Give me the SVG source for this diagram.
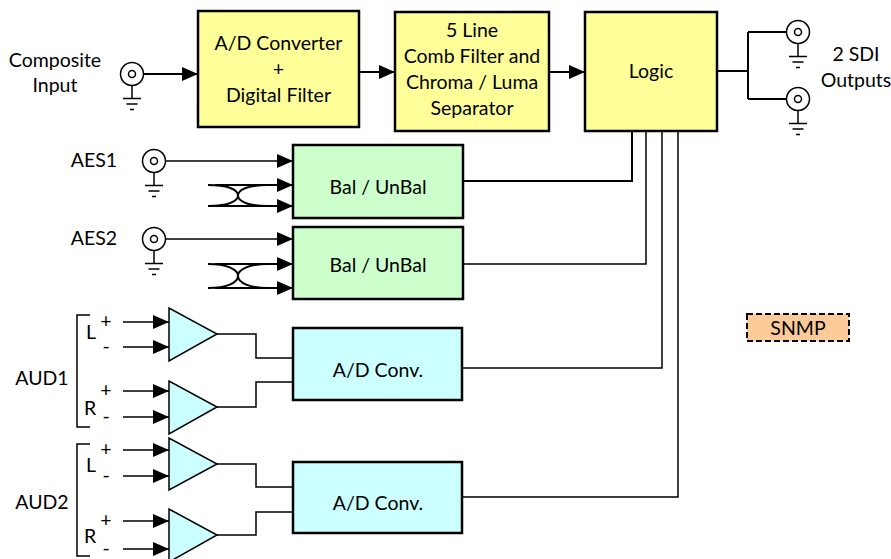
<svg xmlns="http://www.w3.org/2000/svg" xmlns:xlink="http://www.w3.org/1999/xlink" width="891" height="559" viewBox="0 0 891 559">
<style>
  text { font-family: Lato, "Liberation Sans", sans-serif; font-size: 19.5px; fill: #000; text-anchor: middle; }
  .box { stroke: #000; stroke-width: 2.5; }
  .yel { fill: #FFFF99; }
  .grn { fill: #CCFFCC; }
  .cyn { fill: #CCFFFF; }
  .snmp { fill: #FBCA98; stroke: #000; stroke-width: 2; stroke-dasharray: 6 3; }
  .w { fill: none; stroke: #000; stroke-width: 2; }
  .t { fill: none; stroke: #000; stroke-width: 1.5; }
  .tw { fill: none; stroke: #000; stroke-width: 2; }
  .amp { fill: #CCFFFF; stroke: #000; stroke-width: 1.5; }
  .arr { marker-end: url(#ah); }
</style>
<defs>
  <marker id="ah" markerUnits="userSpaceOnUse" markerWidth="17" markerHeight="15" refX="16" refY="7" orient="auto">
    <path d="M0,0 L16,7 L0,14 Z" fill="#000"/>
  </marker>
  <g id="bnc">
    <circle cx="0" cy="0" r="11.5" fill="#fff" stroke="#000" stroke-width="1.5"/>
    <circle cx="0" cy="0" r="3.5" fill="none" stroke="#000" stroke-width="1.5"/>
    <path d="M0,11.5 V24.5 M-9,24.5 H9 M-5.5,30 H5.5 M-2,35.5 H2" fill="none" stroke="#000" stroke-width="1.5"/>
  </g>
</defs>

<g id="connectors">
  <!-- top chain -->
  <line class="w arr" x1="135.5" y1="74" x2="198" y2="74"/>
  <line class="w arr" x1="359" y1="72" x2="395" y2="72"/>
  <line class="w arr" x1="549" y1="72" x2="585" y2="72"/>
  <!-- SDI outputs -->
  <path class="w" d="M717,71 H748 M748,32 V99 M748,32 H794.5 M748,99 H794.5"/>
  <!-- AES1 -->
  <line class="t arr" x1="157.5" y1="161" x2="293" y2="161"/>
  <line class="tw arr" x1="215" y1="185" x2="293" y2="185"/>
  <line class="tw arr" x1="215" y1="206" x2="293" y2="206"/>
  <path class="tw" d="M208,185 C226,185 238,189 238,195.5 C238,202 226,206 208,206 M268,185 C250,185 238,189 238,195.5 C238,202 250,206 268,206"/>
  <!-- AES2 -->
  <line class="t arr" x1="157.5" y1="239" x2="293" y2="239"/>
  <line class="tw arr" x1="215" y1="264" x2="293" y2="264"/>
  <line class="tw arr" x1="215" y1="288" x2="293" y2="288"/>
  <path class="tw" d="M208,264 C226,264 238,269 238,276 C238,283 226,288 208,288 M268,264 C250,264 238,269 238,276 C238,283 250,288 268,288"/>
  <!-- AUD1 inputs -->
  <line class="t arr" x1="123" y1="322" x2="169" y2="322"/>
  <line class="t arr" x1="123" y1="347" x2="169" y2="347"/>
  <line class="t arr" x1="123" y1="391" x2="169" y2="391"/>
  <line class="t arr" x1="123" y1="417" x2="169" y2="417"/>
  <!-- AUD2 inputs -->
  <line class="t arr" x1="123" y1="450" x2="169" y2="450"/>
  <line class="t arr" x1="123" y1="476" x2="169" y2="476"/>
  <line class="t arr" x1="123" y1="521" x2="169" y2="521"/>
  <line class="t arr" x1="123" y1="549" x2="169" y2="549"/>
  <!-- amp outputs -->
  <path class="t" d="M217,334 H256 V358 H293"/>
  <path class="t" d="M217,407 H256 V382 H293"/>
  <path class="t" d="M217,464 H256 V487 H293"/>
  <path class="t" d="M217,535 H256 V512 H293"/>
  <!-- brackets -->
  <path class="t" d="M90,315 H77 V427 H90"/>
  <path class="t" d="M90,444 H77 V556 H90"/>
  <!-- logic bus -->
  <path class="w" d="M632,131 V181 H463"/>
  <path class="t" d="M646,131 V264 H463"/>
  <path class="t" d="M662,131 V368 H463"/>
  <path class="t" d="M678,131 V497 H463"/>
</g>

<g id="composite-input">
  <use xlink:href="#bnc" x="132" y="74"/>
  <text x="55" y="67">Composite</text>
  <text x="55" y="92">Input</text>
</g>
<g id="ad-converter">
  <rect class="box yel" x="198" y="11" width="161" height="116"/>
  <text x="278.5" y="50">A/D Converter</text>
  <text x="278.5" y="76">+</text>
  <text x="278.5" y="102">Digital Filter</text>
</g>
<g id="comb-filter">
  <rect class="box yel" x="395" y="12" width="154" height="119"/>
  <text x="472" y="37">5 Line</text>
  <text x="472" y="63">Comb Filter and</text>
  <text x="472" y="89">Chroma / Luma</text>
  <text x="472" y="115">Separator</text>
</g>
<g id="logic">
  <rect class="box yel" x="585" y="12" width="132" height="119"/>
  <text x="651" y="78">Logic</text>
</g>
<g id="sdi-outputs">
  <use xlink:href="#bnc" x="798" y="32"/>
  <use xlink:href="#bnc" x="798" y="99"/>
  <text x="856" y="61">2 SDI</text>
  <text x="856" y="87">Outputs</text>
</g>
<g id="aes1">
  <use xlink:href="#bnc" x="154" y="161"/>
  <text x="94" y="167">AES1</text>
</g>
<g id="aes2">
  <use xlink:href="#bnc" x="154" y="239"/>
  <text x="94" y="245">AES2</text>
</g>
<g id="balunbal1">
  <rect class="box grn" x="293" y="145" width="170" height="73"/>
  <text x="378" y="194">Bal / UnBal</text>
</g>
<g id="balunbal2">
  <rect class="box grn" x="293" y="227" width="170" height="72"/>
  <text x="378" y="272">Bal / UnBal</text>
</g>
<g id="aud1">
  <text x="42" y="385">AUD1</text>
  <text x="91" y="339">L</text>
  <text x="106" y="328">+</text>
  <text x="106" y="353">-</text>
  <text x="90" y="415">R</text>
  <text x="106" y="397">+</text>
  <text x="106" y="423">-</text>
  <polygon class="amp" points="169,308 169,361 217,334"/>
  <polygon class="amp" points="169,381 169,434 217,407"/>
</g>
<g id="aud2">
  <text x="42" y="509">AUD2</text>
  <text x="91" y="472">L</text>
  <text x="106" y="456">+</text>
  <text x="106" y="482">-</text>
  <text x="90" y="543">R</text>
  <text x="106" y="527">+</text>
  <text x="106" y="555">-</text>
  <polygon class="amp" points="169,438 169,490 217,464"/>
  <polygon class="amp" points="169,509 169,562 217,535"/>
</g>
<g id="adconv1">
  <rect class="box cyn" x="293" y="328" width="169" height="72"/>
  <text x="378" y="377">A/D Conv.</text>
</g>
<g id="adconv2">
  <rect class="box cyn" x="293" y="462" width="169" height="71"/>
  <text x="378" y="510">A/D Conv.</text>
</g>
<g id="snmp">
  <rect class="snmp" x="747" y="314" width="102" height="27"/>
  <text x="798" y="335">SNMP</text>
</g>
</svg>
